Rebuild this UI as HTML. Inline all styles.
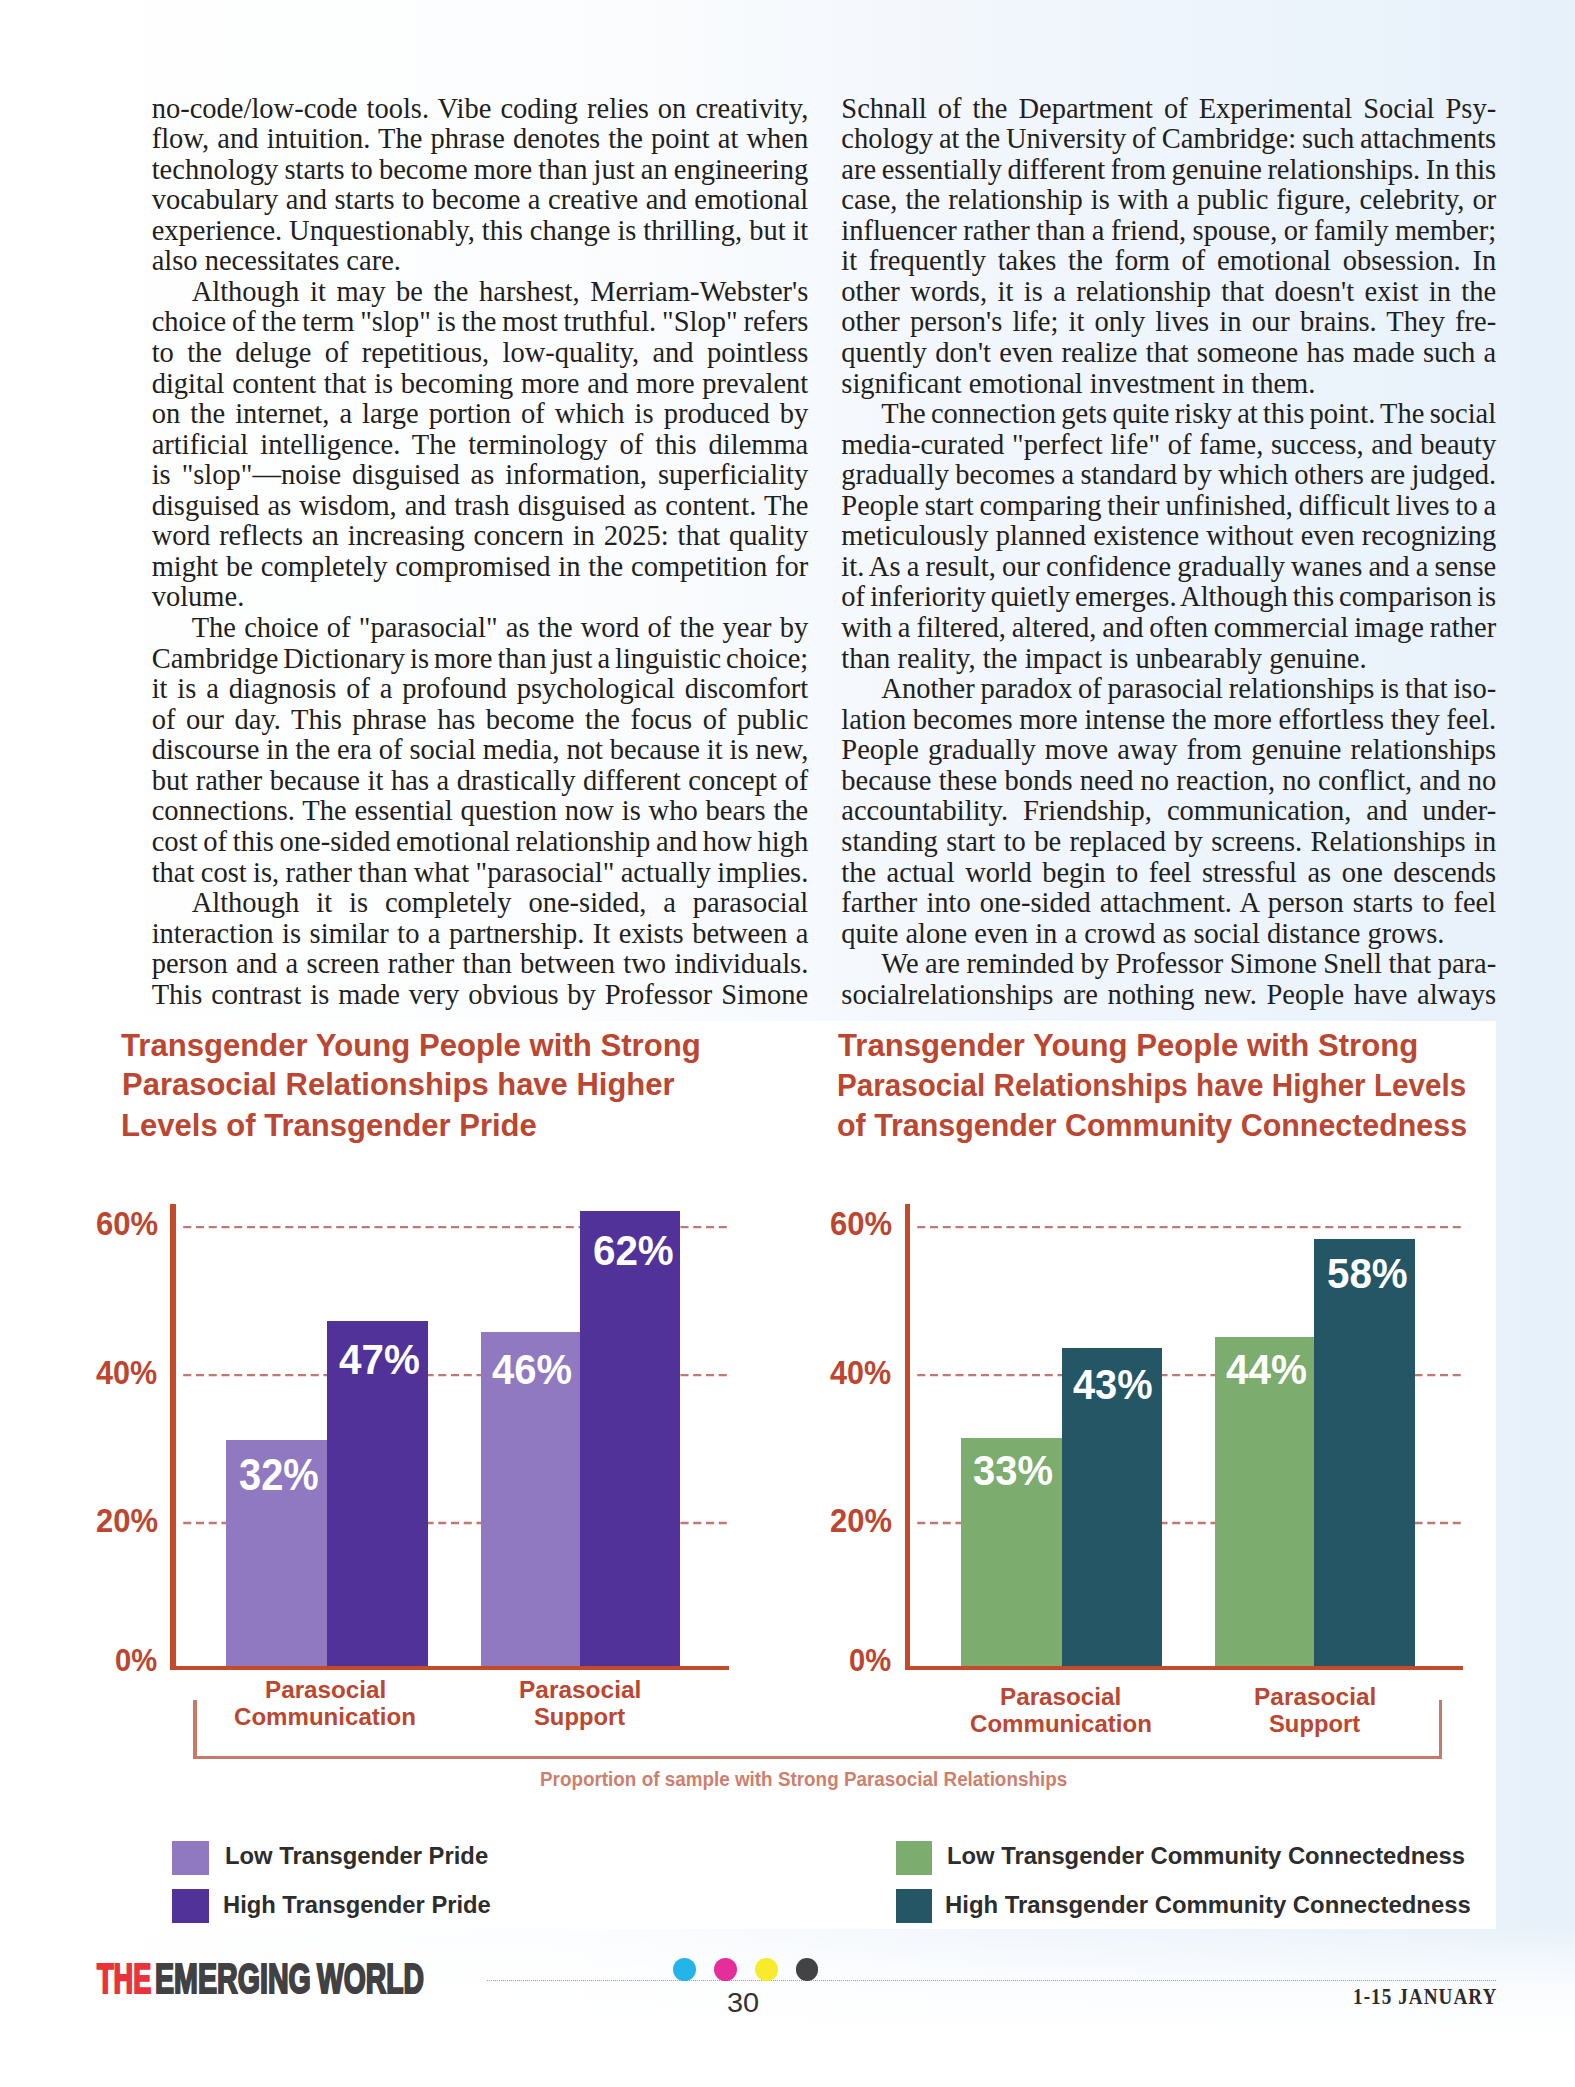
<!DOCTYPE html>
<html><head><meta charset="utf-8"><style>
html,body{margin:0;padding:0}
body{width:1575px;height:2087px;position:relative;overflow:hidden;
background:linear-gradient(to bottom, rgba(255,255,255,0) 0%, rgba(255,255,255,0) 92.3%, rgba(255,255,255,0.75) 95%, #fff 97.5%),
linear-gradient(to right,#ffffff 0%,#fcfdfe 35%,#f1f6fc 65%,#e7f1fa 100%);}
.ln{position:absolute;height:30.54px;line-height:30.54px;font-family:"Liberation Serif",serif;font-size:28.5px;color:#231f20;white-space:nowrap;text-align:left}
.j{text-align:justify;text-align-last:justify;white-space:normal}
</style></head><body>
<div class="ln j" style="top:93.50px;left:151.70px;width:656.60px">no-code/low-code tools. Vibe coding relies on creativity,</div>
<div class="ln j" style="top:124.06px;left:151.70px;width:656.60px">flow, and intuition. The phrase denotes the point at when</div>
<div class="ln j" style="top:154.62px;left:151.70px;width:656.60px;word-spacing:-1.34px">technology starts to become more than just an engineering</div>
<div class="ln j" style="top:185.18px;left:151.70px;width:656.60px">vocabulary and starts to become a creative and emotional</div>
<div class="ln j" style="top:215.74px;left:151.70px;width:656.60px;word-spacing:-0.60px">experience. Unquestionably, this change is thrilling, but it</div>
<div class="ln" style="top:246.30px;left:151.70px;width:656.60px">also necessitates care.</div>
<div class="ln j" style="top:276.86px;left:191.70px;width:616.60px">Although it may be the harshest, Merriam-Webster's</div>
<div class="ln j" style="top:307.42px;left:151.70px;width:656.60px;word-spacing:-1.54px">choice of the term "slop" is the most truthful. "Slop" refers</div>
<div class="ln j" style="top:337.98px;left:151.70px;width:656.60px">to the deluge of repetitious, low-quality, and pointless</div>
<div class="ln j" style="top:368.54px;left:151.70px;width:656.60px">digital content that is becoming more and more prevalent</div>
<div class="ln j" style="top:399.10px;left:151.70px;width:656.60px">on the internet, a large portion of which is produced by</div>
<div class="ln j" style="top:429.66px;left:151.70px;width:656.60px">artificial intelligence. The terminology of this dilemma</div>
<div class="ln j" style="top:460.22px;left:151.70px;width:656.60px">is "slop"—noise disguised as information, superficiality</div>
<div class="ln j" style="top:490.78px;left:151.70px;width:656.60px">disguised as wisdom, and trash disguised as content. The</div>
<div class="ln j" style="top:521.34px;left:151.70px;width:656.60px">word reflects an increasing concern in 2025: that quality</div>
<div class="ln j" style="top:551.90px;left:151.70px;width:656.60px">might be completely compromised in the competition for</div>
<div class="ln" style="top:582.46px;left:151.70px;width:656.60px">volume.</div>
<div class="ln j" style="top:613.02px;left:191.70px;width:616.60px">The choice of "parasocial" as the word of the year by</div>
<div class="ln j" style="top:643.58px;left:151.70px;width:656.60px;word-spacing:-2.53px">Cambridge Dictionary is more than just a linguistic choice;</div>
<div class="ln j" style="top:674.14px;left:151.70px;width:656.60px">it is a diagnosis of a profound psychological discomfort</div>
<div class="ln j" style="top:704.70px;left:151.70px;width:656.60px">of our day. This phrase has become the focus of public</div>
<div class="ln j" style="top:735.26px;left:151.70px;width:656.60px;word-spacing:-0.44px">discourse in the era of social media, not because it is new,</div>
<div class="ln j" style="top:765.82px;left:151.70px;width:656.60px">but rather because it has a drastically different concept of</div>
<div class="ln j" style="top:796.38px;left:151.70px;width:656.60px">connections. The essential question now is who bears the</div>
<div class="ln j" style="top:826.94px;left:151.70px;width:656.60px;word-spacing:-1.75px">cost of this one-sided emotional relationship and how high</div>
<div class="ln j" style="top:857.50px;left:151.70px;width:656.60px;word-spacing:-1.08px">that cost is, rather than what "parasocial" actually implies.</div>
<div class="ln j" style="top:888.06px;left:191.70px;width:616.60px">Although it is completely one-sided, a parasocial</div>
<div class="ln j" style="top:918.62px;left:151.70px;width:656.60px">interaction is similar to a partnership. It exists between a</div>
<div class="ln j" style="top:949.18px;left:151.70px;width:656.60px">person and a screen rather than between two individuals.</div>
<div class="ln j" style="top:979.74px;left:151.70px;width:656.60px">This contrast is made very obvious by Professor Simone</div>
<div class="ln j" style="top:93.50px;left:841.30px;width:654.90px">Schnall of the Department of Experimental Social Psy-</div>
<div class="ln j" style="top:124.06px;left:841.30px;width:654.90px;word-spacing:-1.66px">chology at the University of Cambridge: such attachments</div>
<div class="ln j" style="top:154.62px;left:841.30px;width:654.90px;word-spacing:-1.93px">are essentially different from genuine relationships. In this</div>
<div class="ln j" style="top:185.18px;left:841.30px;width:654.90px">case, the relationship is with a public figure, celebrity, or</div>
<div class="ln j" style="top:215.74px;left:841.30px;width:654.90px;word-spacing:-0.95px">influencer rather than a friend, spouse, or family member;</div>
<div class="ln j" style="top:246.30px;left:841.30px;width:654.90px">it frequently takes the form of emotional obsession. In</div>
<div class="ln j" style="top:276.86px;left:841.30px;width:654.90px">other words, it is a relationship that doesn't exist in the</div>
<div class="ln j" style="top:307.42px;left:841.30px;width:654.90px">other person's life; it only lives in our brains. They fre-</div>
<div class="ln j" style="top:337.98px;left:841.30px;width:654.90px">quently don't even realize that someone has made such a</div>
<div class="ln" style="top:368.54px;left:841.30px;width:654.90px">significant emotional investment in them.</div>
<div class="ln j" style="top:399.10px;left:881.30px;width:614.90px;word-spacing:-2.08px">The connection gets quite risky at this point. The social</div>
<div class="ln j" style="top:429.66px;left:841.30px;width:654.90px">media-curated "perfect life" of fame, success, and beauty</div>
<div class="ln j" style="top:460.22px;left:841.30px;width:654.90px;word-spacing:-1.05px">gradually becomes a standard by which others are judged.</div>
<div class="ln j" style="top:490.78px;left:841.30px;width:654.90px;word-spacing:-1.59px">People start comparing their unfinished, difficult lives to a</div>
<div class="ln j" style="top:521.34px;left:841.30px;width:654.90px;word-spacing:-0.42px">meticulously planned existence without even recognizing</div>
<div class="ln j" style="top:551.90px;left:841.30px;width:654.90px;word-spacing:-1.24px">it. As a result, our confidence gradually wanes and a sense</div>
<div class="ln j" style="top:582.46px;left:841.30px;width:654.90px;word-spacing:-2.39px">of inferiority quietly emerges. Although this comparison is</div>
<div class="ln j" style="top:613.02px;left:841.30px;width:654.90px;word-spacing:-1.54px">with a filtered, altered, and often commercial image rather</div>
<div class="ln" style="top:643.58px;left:841.30px;width:654.90px">than reality, the impact is unbearably genuine.</div>
<div class="ln j" style="top:674.14px;left:881.30px;width:614.90px;word-spacing:-1.72px">Another paradox of parasocial relationships is that iso-</div>
<div class="ln j" style="top:704.70px;left:841.30px;width:654.90px;word-spacing:-0.79px">lation becomes more intense the more effortless they feel.</div>
<div class="ln j" style="top:735.26px;left:841.30px;width:654.90px">People gradually move away from genuine relationships</div>
<div class="ln j" style="top:765.82px;left:841.30px;width:654.90px;word-spacing:-0.23px">because these bonds need no reaction, no conflict, and no</div>
<div class="ln j" style="top:796.38px;left:841.30px;width:654.90px">accountability. Friendship, communication, and under-</div>
<div class="ln j" style="top:826.94px;left:841.30px;width:654.90px">standing start to be replaced by screens. Relationships in</div>
<div class="ln j" style="top:857.50px;left:841.30px;width:654.90px">the actual world begin to feel stressful as one descends</div>
<div class="ln j" style="top:888.06px;left:841.30px;width:654.90px">farther into one-sided attachment. A person starts to feel</div>
<div class="ln" style="top:918.62px;left:841.30px;width:654.90px">quite alone even in a crowd as social distance grows.</div>
<div class="ln j" style="top:949.18px;left:881.30px;width:614.90px;word-spacing:-0.92px">We are reminded by Professor Simone Snell that para-</div>
<div class="ln j" style="top:979.74px;left:841.30px;width:654.90px">socialrelationships are nothing new. People have always</div>
<div style="position:absolute;left:0;top:1020.5px;width:1496px;height:908.5px;background:#fff"></div>
<div style="position:absolute;left:121.00px;top:1025.53px;font-family:'Liberation Sans',sans-serif;font-weight:bold;font-size:31.98px;line-height:38.37px;color:#bd4630;white-space:pre;transform:scaleX(0.9732);transform-origin:0 0;">Transgender Young People with Strong</div>
<div style="position:absolute;left:121.79px;top:1066.48px;font-family:'Liberation Sans',sans-serif;font-weight:bold;font-size:31.40px;line-height:37.67px;color:#bd4630;white-space:pre;transform:scaleX(0.9866);transform-origin:0 0;">Parasocial Relationships have Higher</div>
<div style="position:absolute;left:120.89px;top:1106.92px;font-family:'Liberation Sans',sans-serif;font-weight:bold;font-size:31.25px;line-height:37.5px;color:#bd4630;white-space:pre;transform:scaleX(0.9935);transform-origin:0 0;">Levels of Transgender Pride</div>
<div style="position:absolute;left:837.70px;top:1025.66px;font-family:'Liberation Sans',sans-serif;font-weight:bold;font-size:31.83px;line-height:38.2px;color:#bd4630;white-space:pre;transform:scaleX(0.9785);transform-origin:0 0;">Transgender Young People with Strong</div>
<div style="position:absolute;left:836.69px;top:1066.64px;font-family:'Liberation Sans',sans-serif;font-weight:bold;font-size:31.54px;line-height:37.85px;color:#bd4630;white-space:pre;transform:scaleX(0.9398);transform-origin:0 0;">Parasocial Relationships have Higher Levels</div>
<div style="position:absolute;left:836.90px;top:1106.88px;font-family:'Liberation Sans',sans-serif;font-weight:bold;font-size:31.40px;line-height:37.67px;color:#bd4630;white-space:pre;transform:scaleX(0.9685);transform-origin:0 0;">of Transgender Community Connectedness</div>
<div style="position:absolute;left:95.97px;top:1203.77px;font-family:'Liberation Sans',sans-serif;font-weight:bold;font-size:32.99px;line-height:39.59px;color:#bd4630;white-space:pre;transform:scaleX(0.9401);transform-origin:0 0;">60%</div>
<div style="position:absolute;left:95.90px;top:1353.61px;font-family:'Liberation Sans',sans-serif;font-weight:bold;font-size:32.41px;line-height:38.9px;color:#bd4630;white-space:pre;transform:scaleX(0.9437);transform-origin:0 0;">40%</div>
<div style="position:absolute;left:95.97px;top:1501.19px;font-family:'Liberation Sans',sans-serif;font-weight:bold;font-size:33.28px;line-height:39.94px;color:#bd4630;white-space:pre;transform:scaleX(0.9319);transform-origin:0 0;">20%</div>
<div style="position:absolute;left:114.96px;top:1641.15px;font-family:'Liberation Sans',sans-serif;font-weight:bold;font-size:32.27px;line-height:38.72px;color:#bd4630;white-space:pre;transform:scaleX(0.9043);transform-origin:0 0;">0%</div>
<div style="position:absolute;left:829.97px;top:1203.77px;font-family:'Liberation Sans',sans-serif;font-weight:bold;font-size:32.99px;line-height:39.59px;color:#bd4630;white-space:pre;transform:scaleX(0.9401);transform-origin:0 0;">60%</div>
<div style="position:absolute;left:829.90px;top:1353.61px;font-family:'Liberation Sans',sans-serif;font-weight:bold;font-size:32.41px;line-height:38.9px;color:#bd4630;white-space:pre;transform:scaleX(0.9437);transform-origin:0 0;">40%</div>
<div style="position:absolute;left:829.97px;top:1501.19px;font-family:'Liberation Sans',sans-serif;font-weight:bold;font-size:33.28px;line-height:39.94px;color:#bd4630;white-space:pre;transform:scaleX(0.9319);transform-origin:0 0;">20%</div>
<div style="position:absolute;left:848.96px;top:1641.15px;font-family:'Liberation Sans',sans-serif;font-weight:bold;font-size:32.27px;line-height:38.72px;color:#bd4630;white-space:pre;transform:scaleX(0.9043);transform-origin:0 0;">0%</div>
<svg width="1575" height="2087" style="position:absolute;left:0;top:0">
<line x1="183.2" y1="1227.2" x2="729" y2="1227.2" stroke="#c27870" stroke-width="2.3" stroke-dasharray="8.1 4.65"/>
<line x1="183.2" y1="1375.1" x2="729" y2="1375.1" stroke="#c27870" stroke-width="2.3" stroke-dasharray="8.1 4.65"/>
<line x1="183.2" y1="1523.0" x2="729" y2="1523.0" stroke="#c27870" stroke-width="2.3" stroke-dasharray="8.1 4.65"/>
<line x1="917.2" y1="1227.2" x2="1463" y2="1227.2" stroke="#c27870" stroke-width="2.3" stroke-dasharray="8.1 4.65"/>
<line x1="917.2" y1="1375.1" x2="1463" y2="1375.1" stroke="#c27870" stroke-width="2.3" stroke-dasharray="8.1 4.65"/>
<line x1="917.2" y1="1523.0" x2="1463" y2="1523.0" stroke="#c27870" stroke-width="2.3" stroke-dasharray="8.1 4.65"/>
</svg>
<div style="position:absolute;left:225.6px;top:1439.6px;width:101.70px;height:226.90px;background:#9179c2"></div>
<div style="position:absolute;left:327.3px;top:1321px;width:100.80px;height:345.50px;background:#513298"></div>
<div style="position:absolute;left:480.9px;top:1332px;width:98.70px;height:334.50px;background:#9179c2"></div>
<div style="position:absolute;left:579.6px;top:1211.2px;width:100.60px;height:455.30px;background:#513298"></div>
<div style="position:absolute;left:960.5px;top:1437.5px;width:101.20px;height:229.00px;background:#7dac6f"></div>
<div style="position:absolute;left:1061.7px;top:1348.2px;width:100.60px;height:318.30px;background:#245666"></div>
<div style="position:absolute;left:1214.5px;top:1337.3px;width:99.00px;height:329.20px;background:#7dac6f"></div>
<div style="position:absolute;left:1313.5px;top:1238.6px;width:101.40px;height:427.90px;background:#245666"></div>
<div style="position:absolute;left:170.3px;top:1203.5px;width:5.8px;height:466.5px;background:#c44a2b"></div>
<div style="position:absolute;left:170.3px;top:1665.5px;width:558.7px;height:4.4px;background:#c44a2b"></div>
<div style="position:absolute;left:904.6px;top:1203.5px;width:5.8px;height:466.5px;background:#c44a2b"></div>
<div style="position:absolute;left:904.6px;top:1665.5px;width:558.7px;height:4.4px;background:#c44a2b"></div>
<div style="position:absolute;left:238.77px;top:1449.32px;font-family:'Liberation Sans',sans-serif;font-weight:bold;font-size:43.60px;line-height:52.33px;color:#fff;white-space:pre;transform:scaleX(0.9129);transform-origin:0 0;">32%</div>
<div style="position:absolute;left:339.18px;top:1333.83px;font-family:'Liberation Sans',sans-serif;font-weight:bold;font-size:43.17px;line-height:51.8px;color:#fff;white-space:pre;transform:scaleX(0.9360);transform-origin:0 0;">47%</div>
<div style="position:absolute;left:492.00px;top:1344.91px;font-family:'Liberation Sans',sans-serif;font-weight:bold;font-size:41.72px;line-height:50.06px;color:#fff;white-space:pre;transform:scaleX(0.9575);transform-origin:0 0;">46%</div>
<div style="position:absolute;left:592.77px;top:1224.55px;font-family:'Liberation Sans',sans-serif;font-weight:bold;font-size:42.73px;line-height:51.28px;color:#fff;white-space:pre;transform:scaleX(0.9443);transform-origin:0 0;">62%</div>
<div style="position:absolute;left:973.07px;top:1445.39px;font-family:'Liberation Sans',sans-serif;font-weight:bold;font-size:42.59px;line-height:51.1px;color:#fff;white-space:pre;transform:scaleX(0.9382);transform-origin:0 0;">33%</div>
<div style="position:absolute;left:1072.90px;top:1358.79px;font-family:'Liberation Sans',sans-serif;font-weight:bold;font-size:42.59px;line-height:51.1px;color:#fff;white-space:pre;transform:scaleX(0.9343);transform-origin:0 0;">43%</div>
<div style="position:absolute;left:1226.19px;top:1343.73px;font-family:'Liberation Sans',sans-serif;font-weight:bold;font-size:43.17px;line-height:51.8px;color:#fff;white-space:pre;transform:scaleX(0.9372);transform-origin:0 0;">44%</div>
<div style="position:absolute;left:1326.98px;top:1248.43px;font-family:'Liberation Sans',sans-serif;font-weight:bold;font-size:43.17px;line-height:51.8px;color:#fff;white-space:pre;transform:scaleX(0.9336);transform-origin:0 0;">58%</div>
<div style="position:absolute;left:265.21px;top:1676.00px;font-family:'Liberation Sans',sans-serif;font-weight:bold;font-size:23.98px;line-height:28.78px;color:#bd4630;white-space:pre;transform:scaleX(1.0115);transform-origin:0 0;">Parasocial</div>
<div style="position:absolute;left:234.39px;top:1703.00px;font-family:'Liberation Sans',sans-serif;font-weight:bold;font-size:23.98px;line-height:28.78px;color:#bd4630;white-space:pre;transform:scaleX(1.0045);transform-origin:0 0;">Communication</div>
<div style="position:absolute;left:999.81px;top:1683.20px;font-family:'Liberation Sans',sans-serif;font-weight:bold;font-size:23.98px;line-height:28.78px;color:#bd4630;white-space:pre;transform:scaleX(1.0115);transform-origin:0 0;">Parasocial</div>
<div style="position:absolute;left:969.99px;top:1710.20px;font-family:'Liberation Sans',sans-serif;font-weight:bold;font-size:23.98px;line-height:28.78px;color:#bd4630;white-space:pre;transform:scaleX(1.0045);transform-origin:0 0;">Communication</div>
<div style="position:absolute;left:518.58px;top:1676.00px;font-family:'Liberation Sans',sans-serif;font-weight:bold;font-size:23.98px;line-height:28.78px;color:#bd4630;white-space:pre;transform:scaleX(1.0200);transform-origin:0 0;">Parasocial</div>
<div style="position:absolute;left:533.69px;top:1703.00px;font-family:'Liberation Sans',sans-serif;font-weight:bold;font-size:23.98px;line-height:28.78px;color:#bd4630;white-space:pre;transform:scaleX(0.9923);transform-origin:0 0;">Support</div>
<div style="position:absolute;left:1253.79px;top:1683.20px;font-family:'Liberation Sans',sans-serif;font-weight:bold;font-size:23.98px;line-height:28.78px;color:#bd4630;white-space:pre;transform:scaleX(1.0200);transform-origin:0 0;">Parasocial</div>
<div style="position:absolute;left:1268.90px;top:1710.20px;font-family:'Liberation Sans',sans-serif;font-weight:bold;font-size:23.98px;line-height:28.78px;color:#bd4630;white-space:pre;transform:scaleX(0.9923);transform-origin:0 0;">Support</div>
<div style="position:absolute;left:193.4px;top:1700.3px;width:3.3px;height:59px;background:#c67a68"></div>
<div style="position:absolute;left:193.4px;top:1755.7px;width:1249px;height:3.5px;background:#c67a68"></div>
<div style="position:absolute;left:1439.2px;top:1700.3px;width:3.3px;height:59px;background:#c67a68"></div>
<div style="position:absolute;left:539.60px;top:1767.59px;font-family:'Liberation Sans',sans-serif;font-weight:bold;font-size:19.77px;line-height:23.72px;color:#cf7f6d;white-space:pre;transform:scaleX(0.9543);transform-origin:0 0;">Proportion of sample with Strong Parasocial Relationships</div>
<div style="position:absolute;left:172px;top:1841.2px;width:36.5px;height:34px;background:#9179c2"></div>
<div style="position:absolute;left:224.89px;top:1841.71px;font-family:'Liberation Sans',sans-serif;font-weight:bold;font-size:23.55px;line-height:28.26px;color:#2d2d2d;white-space:pre;transform:scaleX(1.0105);transform-origin:0 0;">Low Transgender Pride</div>
<div style="position:absolute;left:172px;top:1889.2px;width:36.5px;height:34px;background:#513298"></div>
<div style="position:absolute;left:223.19px;top:1891.98px;font-family:'Liberation Sans',sans-serif;font-weight:bold;font-size:23.26px;line-height:27.91px;color:#2d2d2d;white-space:pre;transform:scaleX(1.0209);transform-origin:0 0;">High Transgender Pride</div>
<div style="position:absolute;left:895.5px;top:1841.2px;width:36.5px;height:34px;background:#7dac6f"></div>
<div style="position:absolute;left:946.79px;top:1841.71px;font-family:'Liberation Sans',sans-serif;font-weight:bold;font-size:23.55px;line-height:28.26px;color:#2d2d2d;white-space:pre;transform:scaleX(1.0100);transform-origin:0 0;">Low Transgender Community Connectedness</div>
<div style="position:absolute;left:895.5px;top:1889.2px;width:36.5px;height:34px;background:#245666"></div>
<div style="position:absolute;left:945.09px;top:1891.98px;font-family:'Liberation Sans',sans-serif;font-weight:bold;font-size:23.26px;line-height:27.91px;color:#2d2d2d;white-space:pre;transform:scaleX(1.0277);transform-origin:0 0;">High Transgender Community Connectedness</div>
<div style="position:absolute;left:96.57px;top:1954.27px;font-family:'Liberation Sans',sans-serif;font-weight:bold;font-size:41.86px;line-height:50.23px;color:#e9323b;white-space:pre;transform:scaleX(0.6476);transform-origin:0 0;-webkit-text-stroke:2.2px #e9323b;">THE</div>
<div style="position:absolute;left:155.29px;top:1954.27px;font-family:'Liberation Sans',sans-serif;font-weight:bold;font-size:41.86px;line-height:50.23px;color:#414042;white-space:pre;transform:scaleX(0.6837);transform-origin:0 0;-webkit-text-stroke:2.2px #414042;">EMERGING</div>
<div style="position:absolute;left:316.99px;top:1954.27px;font-family:'Liberation Sans',sans-serif;font-weight:bold;font-size:41.86px;line-height:50.23px;color:#414042;white-space:pre;transform:scaleX(0.6768);transform-origin:0 0;-webkit-text-stroke:2.2px #414042;">WORLD</div>
<div style="position:absolute;left:486.5px;top:1980px;width:1009.5px;height:0;border-top:1px dotted #9d9d9d"></div>
<div style="position:absolute;left:673.1px;top:1958.3px;width:22.8px;height:22.8px;border-radius:50%;background:#25b4ea"></div>
<div style="position:absolute;left:713.9px;top:1958.3px;width:22.8px;height:22.8px;border-radius:50%;background:#e62e9b"></div>
<div style="position:absolute;left:754.8px;top:1958.3px;width:22.8px;height:22.8px;border-radius:50%;background:#f7eb2b"></div>
<div style="position:absolute;left:795.6px;top:1958.3px;width:22.8px;height:22.8px;border-radius:50%;background:#434245"></div>
<div style="position:absolute;left:726.93px;top:1984.63px;font-family:'Liberation Sans',sans-serif;font-weight:normal;font-size:28.49px;line-height:34.19px;color:#333;white-space:pre;transform:scaleX(1.0146);transform-origin:0 0;">30</div>
<div style="position:absolute;left:1353.33px;top:1983.49px;font-family:'Liberation Serif',serif;font-weight:bold;font-size:23.05px;line-height:27.66px;color:#2b2b2b;white-space:pre;transform:scaleX(0.8288);transform-origin:0 0;letter-spacing:1.3px;">1-15 JANUARY</div>
</body></html>
